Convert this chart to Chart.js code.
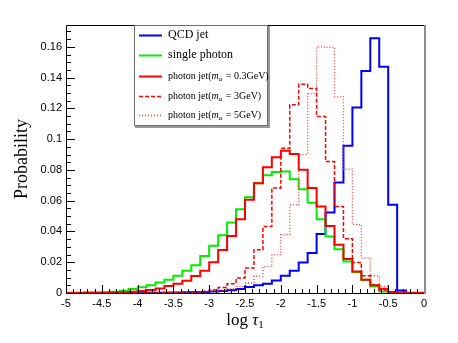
<!DOCTYPE html>
<html>
<head>
<meta charset="utf-8">
<script src="https://cdn.jsdelivr.net/npm/chart.js@4.4.0/dist/chart.umd.min.js"></script>
<style>
html, body { margin: 0; padding: 0; background: #fff; }
</style>
</head>
<body>
<canvas id="c" width="458" height="343"></canvas>
<script>
// histogram bin edges, log tau1 (40 bins)
const binEdges = [-5, -4.875, -4.75, -4.625, -4.5, -4.375, -4.25, -4.125, -4, -3.875,
    -3.75, -3.625, -3.5, -3.375, -3.25, -3.125, -3, -2.875, -2.75, -2.625,
    -2.5, -2.375, -2.25, -2.125, -2, -1.875, -1.75, -1.625, -1.5, -1.375,
    -1.25, -1.125, -1, -0.875, -0.75, -0.625, -0.5, -0.375, -0.25, -0.125, 0];

const qcdJet = [0, 0, 0, 0, 0, 0, 0, 0, 0.0001, 0.0001,
    0.0002, 0.0003, 0.0004, 0.0005, 0.0006, 0.0007, 0.0009, 0.0013, 0.0018, 0.0026,
    0.0039, 0.005, 0.006, 0.0082, 0.0112, 0.0145, 0.0199, 0.026, 0.0383, 0.0523,
    0.0718, 0.0957, 0.1205, 0.1443, 0.1656, 0.1471, 0.0573, 0.0017, 0, 0];

const singlePhoton = [0.0001, 0.0002, 0.0003, 0.0004, 0.0005, 0.0008, 0.0015, 0.0026, 0.0037, 0.005,
    0.0069, 0.0086, 0.0112, 0.0145, 0.018, 0.024, 0.0307, 0.0375, 0.0459, 0.0545,
    0.0623, 0.0714, 0.0765, 0.0786, 0.079, 0.074, 0.0675, 0.0586, 0.048, 0.0368,
    0.0284, 0.0205, 0.0135, 0.0086, 0.0043, 0.001, 0.0003, 0.0001, 0, 0];

const photonJet03 = [0, 0, 0.0001, 0.0001, 0.0002, 0.0003, 0.0005, 0.0008, 0.0013, 0.002,
    0.003, 0.0045, 0.006, 0.008, 0.011, 0.0145, 0.02, 0.028, 0.037, 0.048,
    0.0606, 0.0714, 0.0818, 0.0883, 0.0924, 0.0903, 0.0801, 0.0682, 0.0562, 0.0435,
    0.0314, 0.0221, 0.014, 0.0086, 0.005, 0.0028, 0.0006, 0.0003, 0.0002, 0.0001];

const photonJet3 = [0, 0, 0, 0, 0, 0, 0, 0, 0, 0,
    0, 0.0001, 0.0002, 0.0004, 0.0007, 0.0012, 0.002, 0.0035, 0.006, 0.0097,
    0.0162, 0.0281, 0.0432, 0.0682, 0.0941, 0.1223, 0.1357, 0.133, 0.1147, 0.0855,
    0.0562, 0.0353, 0.0199, 0.0112, 0.0054, 0.002, 0.0006, 0.0002, 0, 0];

const photonJet5 = [0, 0, 0, 0, 0, 0, 0, 0, 0, 0,
    0, 0, 0, 0.0002, 0.0004, 0.0007, 0.0012, 0.0018, 0.0028, 0.0043,
    0.0065, 0.011, 0.0173, 0.0249, 0.0379, 0.0573, 0.09, 0.1296, 0.16, 0.1597,
    0.1275, 0.0805, 0.0444, 0.0227, 0.0112, 0.0043, 0.001, 0.0002, 0, 0];

const seriesNames = ['QCD jet', 'single photon', 'photon jet', 'photon jet', 'photon jet'];
const massLabels = [null, null, '0.3GeV', '3GeV', '5GeV'];

const xTickStep = 0.5;
const yTickStep = 0.02;

// step points: left edge of each bin, plus the closing right edge
function histPoints(vals) {
    return binEdges.map((e, i) => ({ x: e, y: vals[Math.min(i, vals.length - 1)] }));
}

function fmt(v) {
    return String(Math.round(v * 1000) / 1000);
}

const styles = [
    { color: '#0000ff', dash: [], width: 2, order: 5 },
    { color: '#00ee00', dash: [], width: 2, order: 4 },
    { color: '#ff0000', dash: [], width: 2, order: 1 },
    { color: '#ff0000', dash: [4, 2], width: 1.5, order: 2 },
    { color: '#ff3333', dash: [1, 2], width: 1.3, order: 3 }
];
const allSeries = [qcdJet, singlePhoton, photonJet03, photonJet3, photonJet5];

const frameAndLegend = {
    id: 'frameAndLegend',
    afterDatasetsDraw(chart) {
        const { ctx, chartArea: a, scales: { x, y } } = chart;
        ctx.save();
        ctx.strokeStyle = '#000';
        ctx.lineWidth = 1;
        ctx.setLineDash([]);
        ctx.beginPath();
        // inward ticks on the x axis
        for (let k = 0; k <= 50; k++) {
            const px = Math.round(x.getPixelForValue(-5 + k * 0.1)) + 0.5;
            const len = k % 5 === 0 ? 8 : 4;
            ctx.moveTo(px, a.bottom);
            ctx.lineTo(px, a.bottom - len);
        }
        // inward ticks on the y axis
        for (let k = 0; k <= 34; k++) {
            const py = Math.round(y.getPixelForValue(k * 0.005)) + 0.5;
            const len = k % 4 === 0 ? 9 : 5;
            ctx.moveTo(a.left, py);
            ctx.lineTo(a.left + len, py);
        }
        ctx.stroke();

        // frame
        ctx.beginPath();
        ctx.moveTo(a.right, a.top + 0.5);
        ctx.lineTo(a.left + 0.5, a.top + 0.5);
        ctx.lineTo(a.left + 0.5, a.bottom + 0.5);
        ctx.lineTo(a.right, a.bottom + 0.5);
        ctx.stroke();
        ctx.strokeStyle = '#8c8c8c';
        ctx.lineWidth = 2;
        ctx.beginPath();
        ctx.moveTo(a.right + 1, a.top);
        ctx.lineTo(a.right + 1, a.bottom + 1);
        ctx.stroke();

        // legend box
        const lx = 134, ly = 25, lw = 134, lh = 101;
        ctx.fillStyle = '#fff';
        ctx.fillRect(lx, ly, lw, lh);
        ctx.strokeStyle = '#6e6e6e';
        ctx.lineWidth = 1;
        ctx.strokeRect(lx + 0.5, ly + 0.5, lw - 1, lh - 1);
        ctx.strokeStyle = '#9a9a9a';
        ctx.lineWidth = 2;
        ctx.beginPath();
        ctx.moveTo(lx + lw + 1, ly + 1);
        ctx.lineTo(lx + lw + 1, ly + lh + 1);
        ctx.lineTo(lx + 1, ly + lh + 1);
        ctx.stroke();

        const rows = [35, 55, 76, 96, 115];
        ctx.textBaseline = 'middle';
        ctx.textAlign = 'left';
        rows.forEach((ry, i) => {
            const st = styles[i];
            ctx.strokeStyle = st.color;
            ctx.lineWidth = st.width;
            ctx.setLineDash(st.dash);
            ctx.beginPath();
            ctx.moveTo(139, ry + 0.5);
            ctx.lineTo(162, ry + 0.5);
            ctx.stroke();
            ctx.setLineDash([]);
            ctx.fillStyle = '#000';
            let tx = 168;
            if (!massLabels[i]) {
                ctx.font = '12px "Liberation Serif"';
                ctx.fillText(seriesNames[i], tx, ry);
            } else {
                ctx.font = '10px "Liberation Serif"';
                const t1 = seriesNames[i] + '(';
                ctx.fillText(t1, tx, ry);
                tx += ctx.measureText(t1).width;
                ctx.font = 'italic 10px "Liberation Serif"';
                ctx.fillText('m', tx, ry);
                tx += ctx.measureText('m').width;
                ctx.font = 'italic 7px "Liberation Serif"';
                ctx.fillText('a', tx, ry + 3);
                tx += ctx.measureText('a').width + 1;
                ctx.font = '10px "Liberation Serif"';
                ctx.fillText(' = ' + massLabels[i] + ')', tx, ry);
            }
        });

        // axis titles
        ctx.fillStyle = '#000';
        ctx.textBaseline = 'alphabetic';
        const main = 'log ';
        ctx.font = '17px "Liberation Serif"';
        const w1 = ctx.measureText(main).width;
        ctx.font = 'italic 17px "Liberation Serif"';
        const w2 = ctx.measureText('\u03c4').width;
        ctx.font = '11px "Liberation Serif"';
        const w3 = ctx.measureText('1').width;
        const sx = (a.left + a.right) / 2 - (w1 + w2 + w3) / 2;
        const by = 325;
        ctx.font = '17px "Liberation Serif"';
        ctx.fillText(main, sx, by);
        ctx.font = 'italic 17px "Liberation Serif"';
        ctx.fillText('\u03c4', sx + w1, by);
        ctx.font = '11px "Liberation Serif"';
        ctx.fillText('1', sx + w1 + w2, by + 3);

        ctx.translate(27, (a.top + a.bottom) / 2);
        ctx.rotate(-Math.PI / 2);
        ctx.textAlign = 'center';
        ctx.font = '18px "Liberation Serif"';
        ctx.fillText('Probability', 0, 0);
        ctx.restore();
    }
};

new Chart(document.getElementById('c').getContext('2d'), {
    type: 'line',
    data: {
        datasets: allSeries.map((vals, i) => ({
            label: seriesNames[i] + (massLabels[i] ? ' ' + massLabels[i] : ''),
            data: histPoints(vals),
            borderColor: styles[i].color,
            borderWidth: styles[i].width,
            borderDash: styles[i].dash,
            stepped: 'before',
            pointRadius: 0,
            fill: false,
            order: styles[i].order
        }))
    },
    options: {
        responsive: false,
        animation: false,
        devicePixelRatio: 1,
        layout: { padding: { left: 0, top: 25, right: 34, bottom: 0 } },
        plugins: { legend: { display: false }, tooltip: { enabled: false } },
        scales: {
            x: {
                type: 'linear',
                min: -5,
                max: 0,
                grid: { display: false, drawTicks: false },
                border: { display: false },
                ticks: {
                    stepSize: xTickStep,
                    autoSkip: false,
                    maxRotation: 0,
                    padding: 4,
                    color: '#000',
                    font: { family: 'Liberation Sans', size: 11 },
                    callback: v => fmt(v)
                },
                afterFit: s => { s.height = 50; }
            },
            y: {
                min: 0,
                max: 0.1742,
                grid: { display: false, drawTicks: false },
                border: { display: false },
                ticks: {
                    stepSize: yTickStep,
                    includeBounds: false,
                    padding: 4,
                    color: '#000',
                    font: { family: 'Liberation Sans', size: 11 },
                    callback: v => fmt(v)
                },
                afterFit: s => { s.width = 66; }
            }
        }
    },
    plugins: [frameAndLegend]
});
</script>
</body>
</html>
